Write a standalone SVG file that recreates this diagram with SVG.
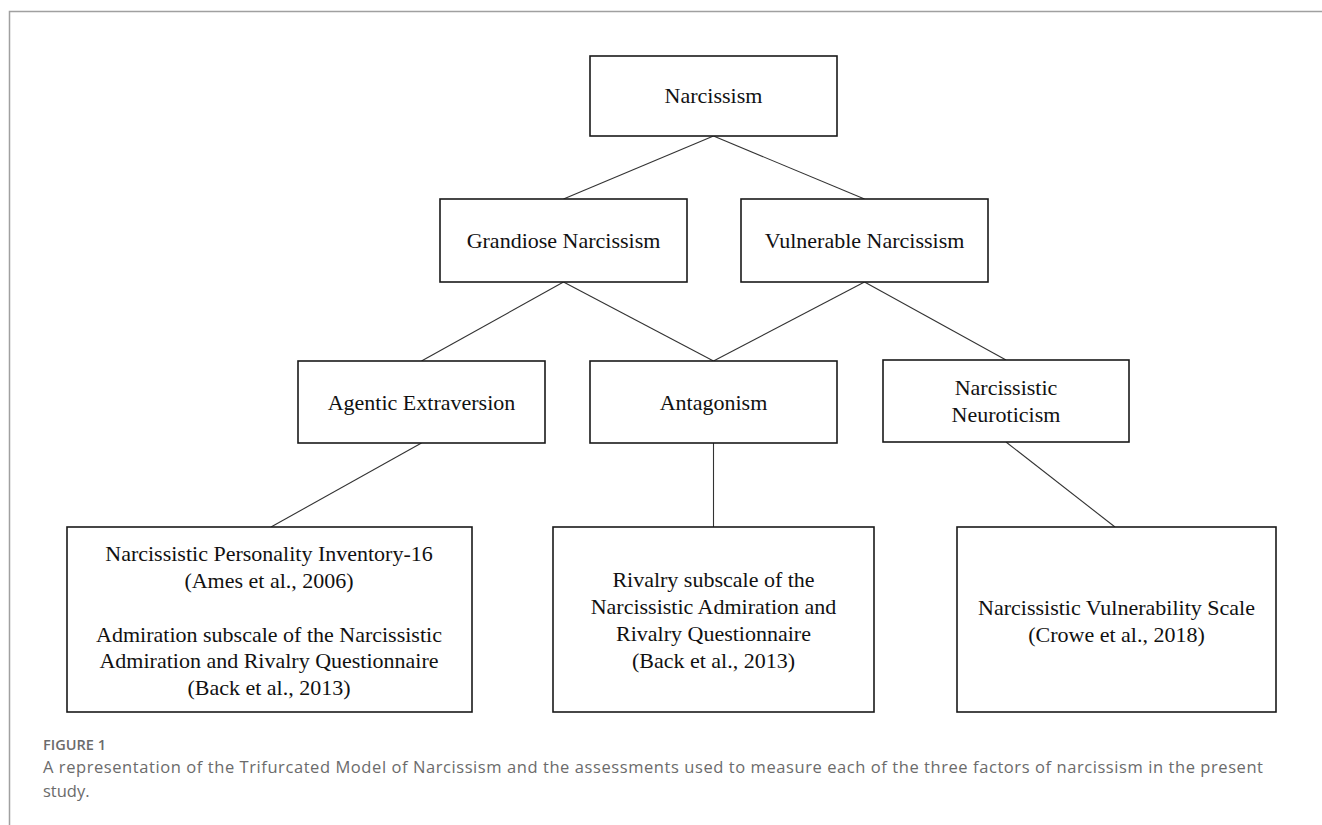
<svg xmlns="http://www.w3.org/2000/svg" width="1322" height="825" viewBox="0 0 1322 825">
<style>
.box{fill:#fff;stroke:#1a1a1a;stroke-width:1.6}
.lbl{font-family:"Liberation Serif","Times New Roman",serif;font-size:22px;fill:#111;text-anchor:middle}
.edge{stroke:#333;stroke-width:1.1;fill:none}
.cap{font-family:"Open Sans","Noto Sans",sans-serif;fill:#6b6b6b}
</style>
<rect width="1322" height="825" fill="#fff"/>
<path d="M9.5,825 V11.5 H1322" fill="none" stroke="#a0a0a0" stroke-width="1.5"/>
<g id="connectors">
<line class="edge" x1="713.5" y1="136" x2="563.5" y2="199"/>
<line class="edge" x1="713.5" y1="136" x2="864.5" y2="199"/>
<line class="edge" x1="563.5" y1="282" x2="421.5" y2="361"/>
<line class="edge" x1="563.5" y1="282" x2="713.5" y2="361"/>
<line class="edge" x1="864.5" y1="282" x2="713.5" y2="361"/>
<line class="edge" x1="864.5" y1="282" x2="1006" y2="360"/>
<line class="edge" x1="421.5" y1="443" x2="271" y2="527"/>
<line class="edge" x1="713.5" y1="443" x2="713.5" y2="527"/>
<line class="edge" x1="1006" y1="442" x2="1115" y2="527"/>
</g>
<g id="narcissism">
<rect class="box" x="590" y="56" width="247" height="80"/>
<text class="lbl" x="713.5" y="103">Narcissism</text>
</g>
<g id="grandiose">
<rect class="box" x="440" y="199" width="247" height="83"/>
<text class="lbl" x="563.5" y="248">Grandiose Narcissism</text>
</g>
<g id="vulnerable">
<rect class="box" x="741" y="199" width="247" height="83"/>
<text class="lbl" x="864.5" y="248">Vulnerable Narcissism</text>
</g>
<g id="agentic">
<rect class="box" x="298" y="361" width="247" height="82"/>
<text class="lbl" x="421.5" y="410">Agentic Extraversion</text>
</g>
<g id="antagonism">
<rect class="box" x="590" y="361" width="247" height="82"/>
<text class="lbl" x="713.5" y="410">Antagonism</text>
</g>
<g id="neuroticism">
<rect class="box" x="883" y="360" width="246" height="82"/>
<text class="lbl" x="1006" y="395">Narcissistic</text>
<text class="lbl" x="1006" y="422">Neuroticism</text>
</g>
<g id="measure-agentic">
<rect class="box" x="67" y="527" width="405" height="185"/>
<text class="lbl" x="269" y="561">Narcissistic Personality Inventory-16</text>
<text class="lbl" x="269" y="588">(Ames et al., 2006)</text>
<text class="lbl" x="269" y="642">Admiration subscale of the Narcissistic</text>
<text class="lbl" x="269" y="668">Admiration and Rivalry Questionnaire</text>
<text class="lbl" x="269" y="695">(Back et al., 2013)</text>
</g>
<g id="measure-antagonism">
<rect class="box" x="553" y="527" width="321" height="185"/>
<text class="lbl" x="713.5" y="587">Rivalry subscale of the</text>
<text class="lbl" x="713.5" y="614">Narcissistic Admiration and</text>
<text class="lbl" x="713.5" y="641">Rivalry Questionnaire</text>
<text class="lbl" x="713.5" y="668">(Back et al., 2013)</text>
</g>
<g id="measure-neuroticism">
<rect class="box" x="957" y="527" width="319" height="185"/>
<text class="lbl" x="1116.5" y="615">Narcissistic Vulnerability Scale</text>
<text class="lbl" x="1116.5" y="642">(Crowe et al., 2018)</text>
</g>
<g id="caption">
<text class="cap" x="43" y="750" font-size="13.5" font-weight="600" fill="#777" textLength="63" lengthAdjust="spacingAndGlyphs">FIGURE 1</text>
<text class="cap" x="43" y="773" font-size="16.5" textLength="1220" lengthAdjust="spacing">A representation of the Trifurcated Model of Narcissism and the assessments used to measure each of the three factors of narcissism in the present</text>
<text class="cap" x="43" y="797" font-size="16.5">study.</text>
</g>
</svg>
